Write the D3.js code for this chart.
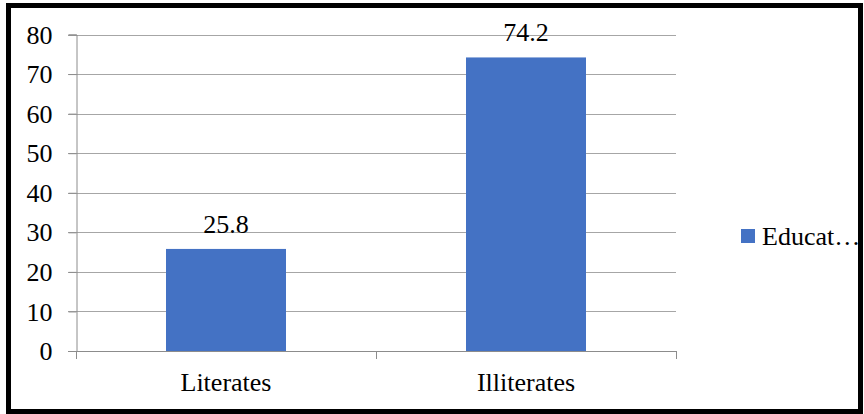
<!DOCTYPE html>
<html>
<head>
<meta charset="utf-8">
<script src="https://cdn.jsdelivr.net/npm/d3@7"></script>
<style>
  body { margin: 0; background: #fff; }
  svg { display: block; }
</style>
</head>
<body>
<svg id="chart" width="864" height="414"></svg>
<script>
// data
const categories = ["Literates", "Illiterates"];
const values = [25.8, 74.2];
const yTicks = [0, 10, 20, 30, 40, 50, 60, 70, 80];
const seriesName = "Educat\u2026";

const serif = "Liberation Serif";
const fontSize = "26px";

const svg = d3.select("#chart");

// outer frame
svg.append("rect")
  .attr("x", 8.5).attr("y", 5.5)
  .attr("width", 852).attr("height", 406)
  .attr("fill", "#fff")
  .attr("stroke", "#000")
  .attr("stroke-width", 5);

// scales
const x = d3.scaleBand().domain(categories).range([76, 676]).paddingInner(0.6).paddingOuter(0.3);
const y = d3.scaleLinear().domain([0, 80]).range([351, 34.5]);

// gridlines
svg.append("g")
  .selectAll("line")
  .data(yTicks.filter(d => d > 0))
  .join("line")
  .attr("x1", 68).attr("x2", 676)
  .attr("y1", d => Math.round(y(d)) + 0.5)
  .attr("y2", d => Math.round(y(d)) + 0.5)
  .attr("stroke", "#a6a6a6")
  .attr("stroke-width", 1);

// y axis
const yAxis = svg.append("g")
  .attr("transform", "translate(76.5,0)")
  .call(d3.axisLeft(y).tickValues(yTicks).tickSize(8).tickPadding(16));
yAxis.attr("font-family", null).attr("font-size", null);
yAxis.select(".domain").attr("stroke", "#8c8c8c");
yAxis.selectAll("line").attr("stroke", "#8c8c8c");
yAxis.selectAll("text")
  .style("font-family", serif)
  .style("font-size", fontSize)
  .attr("fill", "#000")
  .attr("dy", "0.33em");

// x axis
const xTickPos = [76, 376, 676];
svg.append("line")
  .attr("x1", 68).attr("x2", 676.5)
  .attr("y1", 351.5).attr("y2", 351.5)
  .attr("stroke", "#8c8c8c");
svg.append("g")
  .selectAll("line")
  .data(xTickPos)
  .join("line")
  .attr("x1", d => d + 0.5).attr("x2", d => d + 0.5)
  .attr("y1", 351).attr("y2", 359)
  .attr("stroke", "#8c8c8c");

svg.append("g")
  .selectAll("text")
  .data(categories)
  .join("text")
  .attr("x", d => x(d) + x.bandwidth() / 2)
  .attr("y", 391)
  .attr("text-anchor", "middle")
  .style("font-family", serif)
  .style("font-size", fontSize)
  .text(d => d);

// bars
svg.append("g")
  .selectAll("rect")
  .data(values)
  .join("rect")
  .attr("x", (d, i) => x(categories[i]))
  .attr("y", d => y(d))
  .attr("width", x.bandwidth())
  .attr("height", d => y(0) - y(d))
  .attr("fill", "#4472c4");

// value labels
svg.append("g")
  .selectAll("text")
  .data(values)
  .join("text")
  .attr("x", (d, i) => x(categories[i]) + x.bandwidth() / 2)
  .attr("y", d => y(d) - 16)
  .attr("text-anchor", "middle")
  .style("font-family", serif)
  .style("font-size", fontSize)
  .text(d => d);

// legend
const legend = svg.append("g").attr("transform", "translate(741,229)");
legend.append("rect")
  .attr("width", 14).attr("height", 14)
  .attr("fill", "#4472c4");
legend.append("text")
  .attr("x", 21).attr("y", 16)
  .style("font-family", serif)
  .style("font-size", fontSize)
  .text(seriesName);
</script>
</body>
</html>
